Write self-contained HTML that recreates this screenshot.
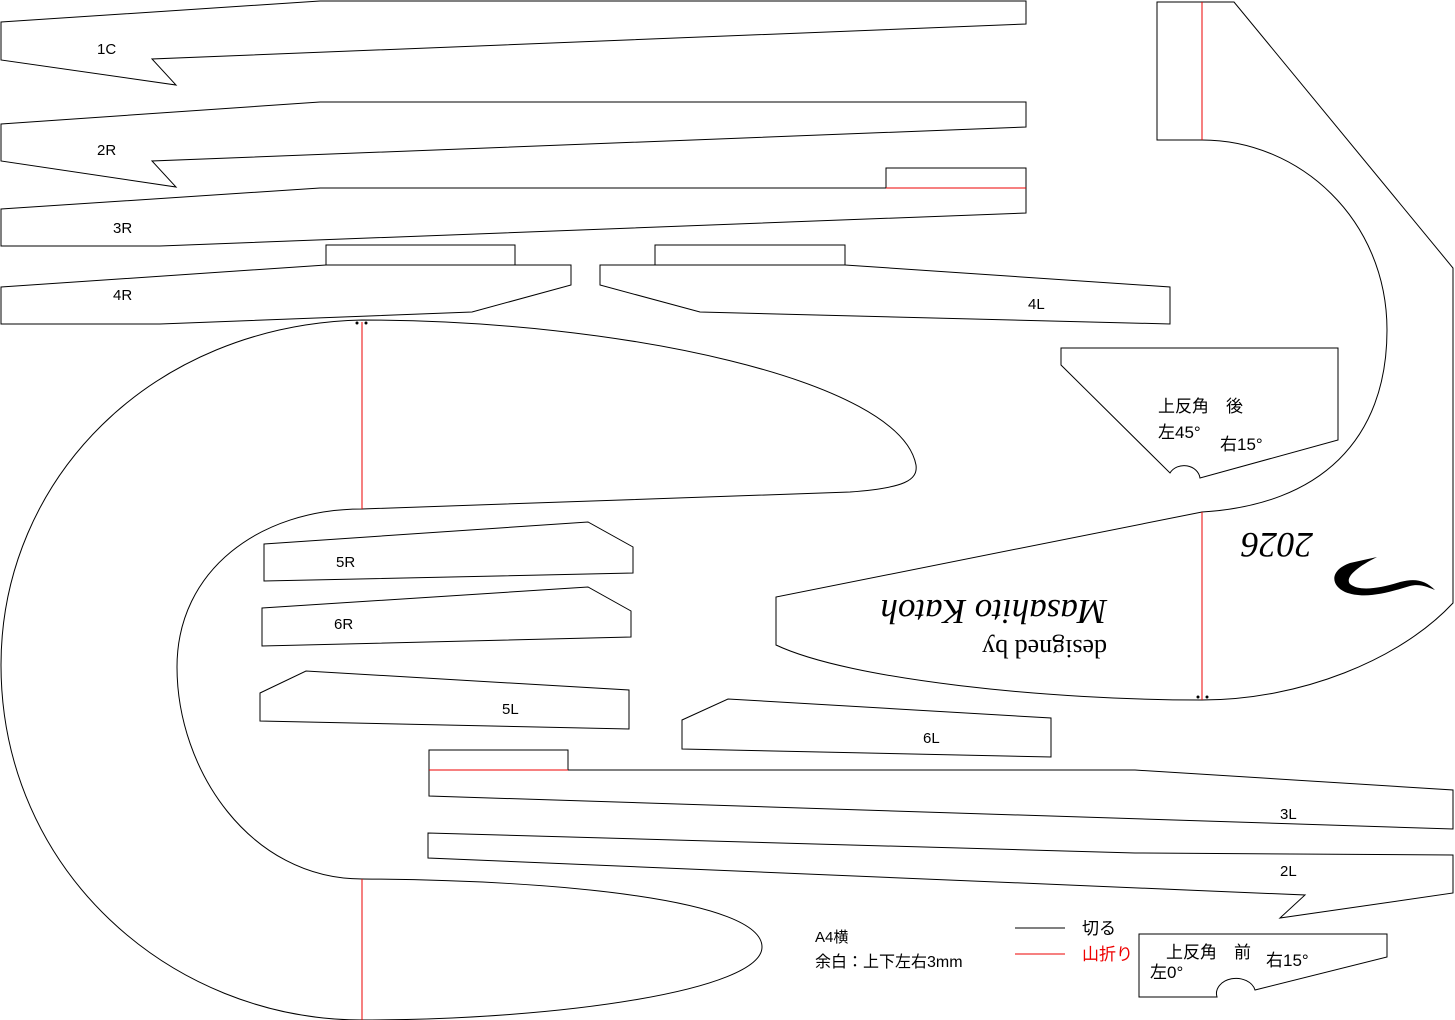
<!DOCTYPE html>
<html><head><meta charset="utf-8"><style>
html,body{margin:0;padding:0;background:#fff;}
svg{display:block;}
.s{font-family:"Liberation Sans","Noto Sans CJK JP",sans-serif;}
.r{font-family:"Liberation Serif",serif;}
</style></head><body>
<svg width="1455" height="1020" viewBox="0 0 1455 1020" xmlns="http://www.w3.org/2000/svg">
<g fill="none" stroke="#000" stroke-width="1">
<path d="M1,22 L320,1 L1026,1 L1026,24 L152,59 L176,85 L1,60 Z"/>
<path d="M1,124 L320,102 L1026,102 L1026,127 L152,161 L176,187 L1,161 Z"/>
<path d="M1,209 L320,188 L1026,188 L1026,213 L160,246 L1,246 Z"/>
<path d="M886,188 L886,168 L1026,168 L1026,188"/>
<path d="M1,287 L326,265 L571,265 L571,285 L472,312 L160,324 L1,324 Z"/>
<path d="M326,265 L326,245 L515,245 L515,265"/>
<path d="M600,265 L845,265 L1170,287 L1170,324 L700,312 L600,285 Z"/>
<path d="M655,265 L655,245 L845,245 L845,265"/>
<path d="M362,320 C150,325 1,480 1,665 C1,870 170,1020 362,1020 C560,1020 762,990 762,947 C762,900 560,880 362,879 C250,879 177,770 177,667 C177,570 260,509 362,509 L850,492 C905,488 918,480 916,465 C900,380 620,320 362,320 Z"/>
<path d="M264,544 L588,522 L633,547 L633,573 L264,581 Z"/>
<path d="M262,608 L588,587 L631,611 L631,637 L262,646 Z"/>
<path d="M260,693 L306,671 L629,690 L629,729 L260,721 Z"/>
<path d="M682,720 L728,699 L1051,718 L1051,757 L682,749 Z"/>
<path d="M429,770 L429,750 L568,750 L568,770 L1135,770 L1453,790 L1453,829 L429,796 Z"/>
<path d="M428,833 L1135,853 L1453,855 L1453,893 L1280,918 L1305,895 L428,858 Z"/>
<path d="M1157,2 L1234,2 L1453,268 L1453,603 C1400,660 1300,700 1202,700 C1050,700 850,680 776,645 L776,597 L1202,512 C1320,505 1387,440 1387,330 C1387,220 1300,140 1202,140 L1157,140 Z"/>
<path d="M1061,348 L1338,348 L1338,440 L1200,478 A16,14 0 0 0 1170,473 L1061,365 Z"/>
<path d="M1139,934 L1387,934 L1387,957 L1255,990 A18,14 0 0 0 1217,997 L1139,997 Z"/>
<line x1="1015" y1="928" x2="1065" y2="928"/>
</g>
<g stroke="#e00" stroke-width="1">
<line x1="886" y1="188" x2="1026" y2="188"/>
<line x1="429" y1="770" x2="568" y2="770"/>
<line x1="362" y1="322" x2="362" y2="509"/>
<line x1="362" y1="879" x2="362" y2="1020"/>
<line x1="1202" y1="2" x2="1202" y2="140"/>
<line x1="1202" y1="512" x2="1202" y2="700"/>
<line x1="1015" y1="954" x2="1065" y2="954"/>
</g>
<g fill="#000">
<circle cx="357" cy="323" r="1.5"/><circle cx="366" cy="323" r="1.5"/>
<circle cx="1198" cy="697" r="1.5"/><circle cx="1207" cy="697" r="1.5"/>
<path d="M1350,563 C1330,570 1330,585 1345,592 C1365,600 1390,592 1410,586 C1420,583 1430,588 1435,590 C1425,580 1415,578 1400,582 C1380,588 1360,592 1350,584 C1345,578 1355,568 1377,557 Z"/>
</g>
<g class="s" font-size="15" fill="#000">
<text x="97" y="54">1C</text>
<text x="97" y="155">2R</text>
<text x="113" y="233">3R</text>
<text x="113" y="300">4R</text>
<text x="1028" y="309">4L</text>
<text x="336" y="567">5R</text>
<text x="334" y="629">6R</text>
<text x="502" y="714">5L</text>
<text x="923" y="743">6L</text>
<text x="1280" y="819">3L</text>
<text x="1280" y="876">2L</text>
<text x="1158" y="412" font-size="17">上反角　後</text>
<text x="1158" y="438" font-size="17">左45°</text>
<text x="1220" y="450" font-size="17">右15°</text>
<text x="1166" y="958" font-size="17">上反角　前</text>
<text x="1150" y="978" font-size="17">左0°</text>
<text x="1266" y="966" font-size="17">右15°</text>
<text x="815" y="942">A4横</text>
<text x="815" y="967" font-size="16">余白：上下左右3mm</text>
<text x="1082" y="934" font-size="17">切る</text>
<text x="1082" y="960" font-size="17" fill="#e00">山折り</text>
</g>
<g class="r" fill="#000">
<text transform="translate(1107,600) rotate(180)" font-size="35" font-style="italic">Masahito Katoh</text>
<text transform="translate(1107,640) rotate(180)" font-size="26">designed by</text>
<text transform="translate(1313,533) rotate(180)" font-size="36" font-style="italic">2026</text>
</g>
</svg>
</body></html>
